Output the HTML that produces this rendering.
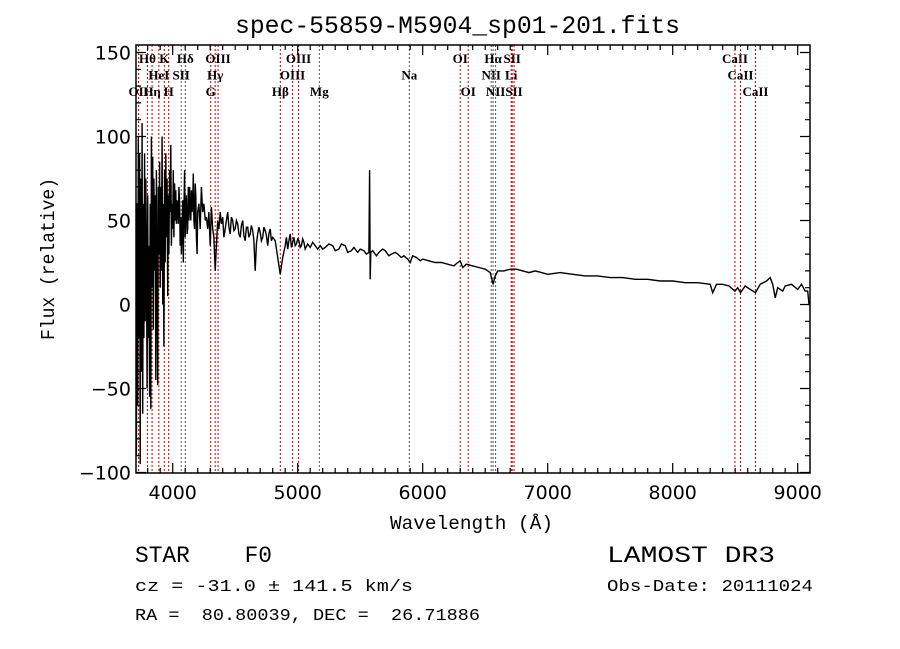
<!DOCTYPE html>
<html><head><meta charset="utf-8"><style>
body{margin:0;background:#fff;width:900px;height:649px;overflow:hidden}
svg{display:block}
text{font-family:"Liberation Mono","DejaVu Sans Mono",monospace;fill:#000}
.lbl{font-family:"Liberation Serif",serif;font-size:13px;font-weight:bold}
.tk{font-family:"DejaVu Sans","Liberation Sans",sans-serif}
</style></head><body>
<svg id="chart" width="900" height="649" viewBox="0 0 900 649" xmlns="http://www.w3.org/2000/svg">
<text x="235" y="33" font-size="25" textLength="445" lengthAdjust="spacingAndGlyphs">spec-55859-M5904_sp01-201.fits</text>
<g id="lines"></g>
<g id="spec"></g>
<g id="axes"></g>
<text x="390" y="529" font-size="19" textLength="163" lengthAdjust="spacingAndGlyphs">Wavelength (Å)</text>
<text transform="translate(54,340) rotate(-90)" font-size="19" textLength="162" lengthAdjust="spacingAndGlyphs">Flux (relative)</text>
<text x="135" y="562" font-size="23" xml:space="preserve" textLength="137" lengthAdjust="spacingAndGlyphs">STAR    F0</text>
<text x="135" y="591" font-size="17" textLength="278" lengthAdjust="spacingAndGlyphs">cz = -31.0 ± 141.5 km/s</text>
<text x="135" y="620" font-size="17" xml:space="preserve" textLength="345" lengthAdjust="spacingAndGlyphs">RA =  80.80039, DEC =  26.71886</text>
<text x="607" y="562" font-size="23" textLength="168" lengthAdjust="spacingAndGlyphs">LAMOST DR3</text>
<text x="607" y="591" font-size="17" textLength="206" lengthAdjust="spacingAndGlyphs">Obs-Date: 20111024</text>
</svg>
<script>
const wave=[3705,3710,3715,3720,3725,3730,3735,3740,3745,3750,3755,3760,3765,3770,3775,3780,3785,3790,3795,3800,3805,3810,3815,3820,3825,3830,3835,3840,3845,3850,3855,3860,3865,3870,3875,3880,3885,3890,3895,3900,3905,3910,3915,3920,3925,3930,3935,3940,3945,3950,3955,3960,3965,3970,3975,3980,3985,3990,3995,4000,4005,4010,4015,4020,4025,4030,4035,4040,4045,4050,4055,4060,4065,4070,4075,4080,4085,4090,4095,4100,4105,4110,4115,4120,4125,4130,4135,4140,4145,4150,4155,4160,4165,4170,4175,4180,4185,4190,4195,4200,4210,4220,4230,4240,4250,4260,4270,4280,4290,4300,4310,4320,4330,4340,4350,4360,4370,4380,4390,4400,4410,4420,4430,4440,4450,4460,4470,4480,4490,4500,4510,4520,4530,4540,4550,4560,4570,4580,4590,4600,4610,4620,4630,4640,4650,4660,4670,4680,4690,4700,4710,4720,4730,4740,4750,4760,4770,4780,4790,4800,4820,4840,4860,4880,4900,4910,4920,4930,4940,4950,4960,4970,4980,4990,5000,5010,5020,5030,5040,5050,5060,5080,5100,5120,5140,5160,5180,5200,5220,5250,5280,5300,5330,5350,5380,5400,5430,5450,5480,5500,5530,5550,5570,5575,5580,5585,5600,5630,5650,5680,5700,5730,5750,5780,5800,5830,5850,5880,5900,5920,5950,5980,6000,6050,6100,6150,6200,6250,6280,6300,6320,6350,6400,6450,6500,6540,6563,6580,6600,6650,6700,6750,6800,6850,6900,6950,7000,7100,7200,7300,7400,7500,7600,7700,7800,7900,8000,8100,8200,8300,8320,8350,8400,8450,8498,8520,8542,8580,8620,8662,8700,8750,8780,8800,8820,8840,8880,8900,8950,9000,9030,9060,9080,9090,9100];
const flux=[0,-90,60,-60,100,-20,90,-95,75,-40,108,-65,60,-20,90,-10,75,30,-50,65,-20,35,-55,60,-62,100,10,88,-15,75,20,65,-45,80,15,-48,70,30,85,10,70,20,100,0,60,-25,80,25,90,40,75,5,65,30,80,55,95,35,60,45,80,40,72,50,68,48,62,55,48,70,60,35,52,30,45,62,25,55,80,40,58,65,42,45,70,50,70,58,50,68,55,60,78,50,45,72,65,40,30,55,60,45,70,55,60,50,52,45,55,35,58,45,40,20,35,50,45,55,48,52,40,45,50,55,46,42,52,50,44,45,50,48,42,40,47,50,41,38,46,46,40,42,47,44,38,20,36,42,46,43,38,40,46,44,41,35,42,45,38,40,38,28,18,28,35,40,33,38,42,34,37,40,35,36,39,38,34,35,39,37,33,36,34,37,35,33,35,33,34,36,35,32,33,36,35,31,32,34,31,33,32,30,31,80,15,31,32,29,31,33,32,29,30,31,30,28,29,27,25,29,28,26,27,26,25,25,24,23,25,26,22,24,23,22,21,19,12,17,20,20,21,21,20,19,20,19,18,19,18,17,17,16,16,15,15,14,14,13,13,12,7,12,12,11,8,10,7,11,9,7,12,14,16,12,4,10,8,11,12,9,12,8,8,0,0];
const lineWave=[3727,3798,3835,3889,3933,3968,4068,4101,4304,4340,4363,4861,4959,5007,5173,5893,6300,6364,6548,6563,6583,6708,6716,6731,8498,8542,8662];
const lineName=["OII","Hθ","Hη","HeI","K","H","SII","Hδ","G","Hγ","OIII","Hβ","OIII","OIII","Mg","Na","OI","OI","NII","Hα","NII","Li","SII","SII","CaII","CaII","CaII"];
const lineRow=[2,0,2,1,0,2,1,0,2,1,0,2,1,0,2,1,0,2,1,0,2,1,0,2,0,1,2];
const lineRed=[1,1,1,1,1,1,0,0,1,1,1,1,1,1,0,0,1,1,0,0,0,1,1,1,1,1,1];
const xTicks=[4000,5000,6000,7000,8000,9000];
const yTicks=[-100,-50,0,50,100,150];
const L=136,R=810,T=45,B=473;
const X=w=>172.7+(w-4000)*0.125;
const Y=v=>304.5-v*1.68;
const NS="http://www.w3.org/2000/svg";
function mk(tag,parent){const e=document.createElementNS(NS,tag);parent.appendChild(e);return e;}
const gl=document.getElementById('lines'),gs=document.getElementById('spec'),ga=document.getElementById('axes');
lineWave.forEach((w,i)=>{
  const l=mk('line',gl);
  
  
  const x=X(w);
  l.setAttribute('x1',x);l.setAttribute('x2',x);l.setAttribute('y1',T);l.setAttribute('y2',B);
  l.setAttribute('stroke',lineRed[i]?'#c00000':'#555');l.setAttribute('stroke-width','1');l.setAttribute('stroke-dasharray','2,2');
  const t=mk('text',gl);
  
  
  t.setAttribute('class','lbl');t.setAttribute('x',x);t.setAttribute('y',63+lineRow[i]*16.5);t.setAttribute('text-anchor','middle');
  t.textContent=lineName[i];
});
let d='';
wave.forEach((w,i)=>{d+=(i?'L':'M')+X(w).toFixed(1)+','+Y(flux[i]).toFixed(1);});
const clip=mk('clipPath',gs);clip.setAttribute('id','c');const cr=mk('rect',clip);
cr.setAttribute('x',L);cr.setAttribute('y',T);cr.setAttribute('width',R-L);cr.setAttribute('height',B-T);
const p=mk('path',gs);


p.setAttribute('d',d);p.setAttribute('fill','none');p.setAttribute('stroke','#000');p.setAttribute('stroke-width','1.4');
p.setAttribute('clip-path','url(#c)');
const frame=mk('rect',ga);


frame.setAttribute('x',L);frame.setAttribute('y',T);frame.setAttribute('width',R-L);frame.setAttribute('height',B-T);
frame.setAttribute('fill','none');frame.setAttribute('stroke','#000');frame.setAttribute('stroke-width','1.5');
let td='';
for(let w=3800;w<=9100;w+=100){const x=X(w);if(x<L||x>R)continue;const len=(w%1000===0)?10:5;td+=`M${x},${B}v${-len}M${x},${T}v${len}`;}
for(let v=-100;v<=150;v+=10){const y=Y(v);const len=(v%50===0)?10:5;td+=`M${L},${y}h${len}M${R},${y}h${-len}`;}
const tp=mk('path',ga);


tp.setAttribute('d',td);tp.setAttribute('stroke','#000');tp.setAttribute('stroke-width','1.2');
xTicks.forEach(w=>{const t=mk('text',ga);
  
  
  t.setAttribute('class','tk');
  t.setAttribute('x',X(w));t.setAttribute('y',B+26);t.setAttribute('font-size','19');t.setAttribute('text-anchor','middle');t.textContent=w;});
yTicks.forEach(v=>{const t=mk('text',ga);
  
  
  t.setAttribute('class','tk');
  t.setAttribute('x',L-5);t.setAttribute('y',Y(v)+7);t.setAttribute('font-size','19');t.setAttribute('text-anchor','end');t.textContent=v<0?'\u2212'+(-v):v;});
</script>
</body></html>
